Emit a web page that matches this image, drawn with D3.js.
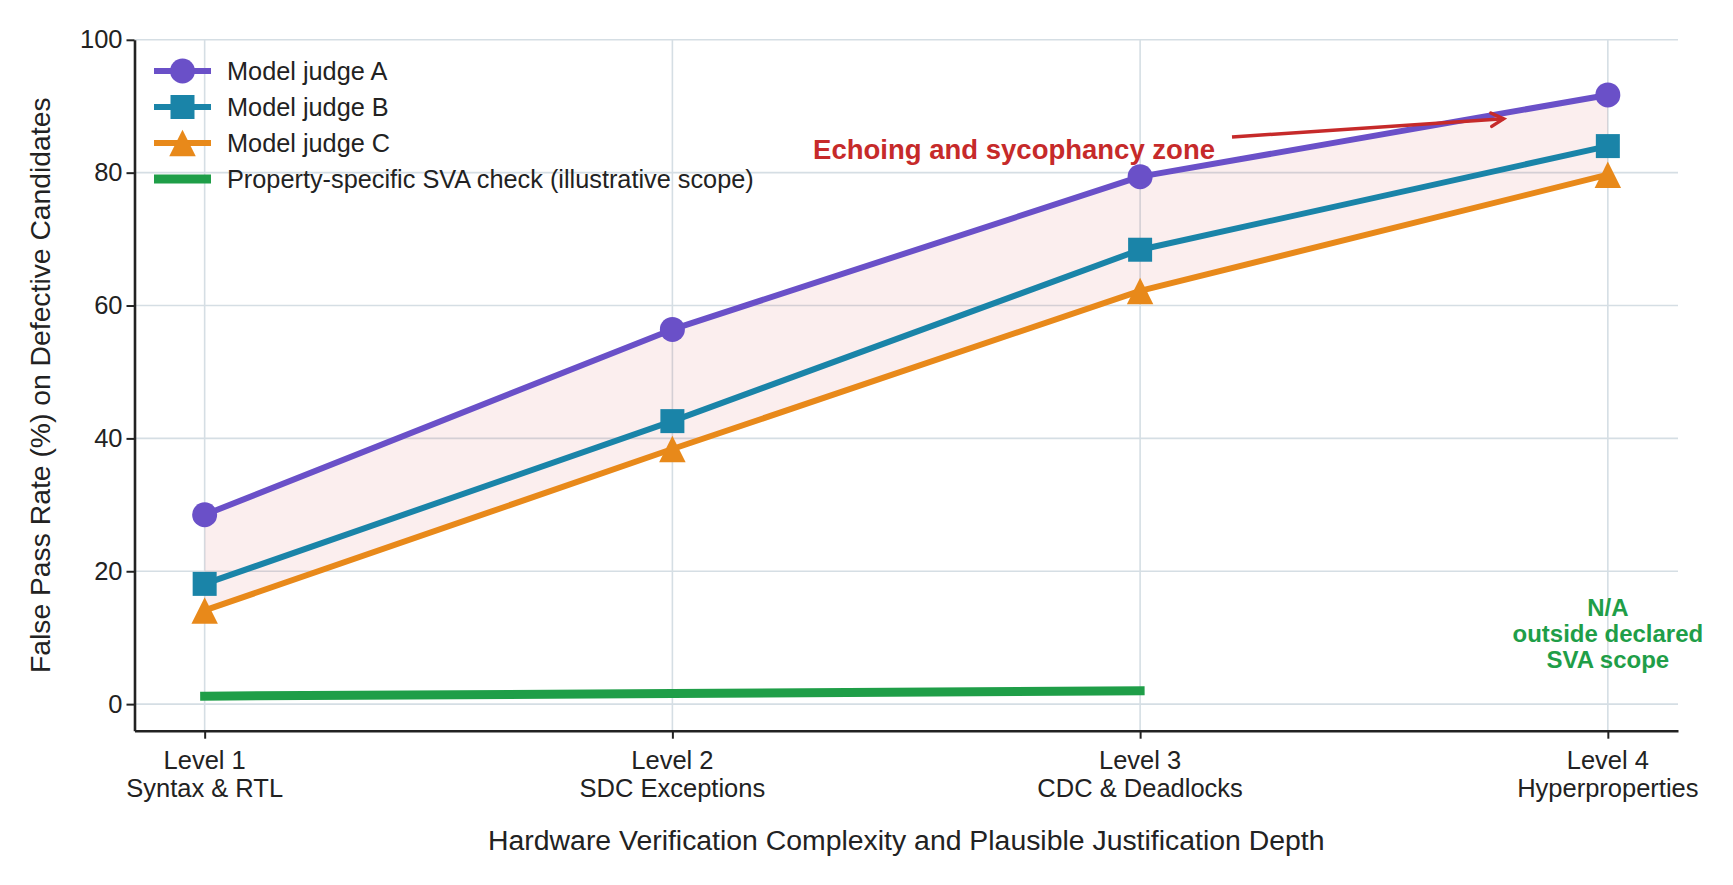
<!DOCTYPE html>
<html>
<head>
<meta charset="utf-8">
<script src="https://cdn.jsdelivr.net/npm/d3@7"></script>
<style>
  body{margin:0;background:#fff;}
  text{font-family:"Liberation Sans",Arial,sans-serif;fill:#222;}
</style>
</head>
<body>
<div class="chart"></div>
<script>
// data
var levels=['Level 1','Level 2','Level 3','Level 4'];
var levelNames=['Syntax & RTL','SDC Exceptions','CDC & Deadlocks','Hyperproperties'];
var judgeA=[28.5,56.4,79.4,91.7];
var judgeB=[18.1,42.6,68.4,84.0];
var judgeC=[14.1,38.4,62.2,79.7];
var svaCheck=[1.2,1.6,2.0];   // levels 1-3 only
var yTicks=[0,20,40,60,80,100];

var width=1733,height=885;
var margin={left:134.5,right:55,top:39.8,bottom:154.3};
var svg=d3.select('div.chart')
		.append('svg')
		.attr('width',width)
		.attr('height',height);

var x=d3.scaleLinear()
		.domain([-0.15,3.15])
		.range([margin.left,width-margin.right]);
var y=d3.scaleLinear()
		.domain([-4,100])
		.range([height-margin.bottom,margin.top]);

var colA='#6a50c8',colB='#1a84a8',colC='#e8891a',colG='#1f9e48',colR='#c62a2a';

// 像matplotlib的 '^' 标记
var triUp={draw:function(ctx,size){
	var h=Math.sqrt(size)/2;
	ctx.moveTo(0,-h);
	ctx.lineTo(h,h);
	ctx.lineTo(-h,h);
	ctx.closePath();
}};

//网格
var grid=svg.append('g');
grid.selectAll('line.h')
	.data(yTicks)
	.enter()
	.append('line')
	.attr('x1',x(-0.15)).attr('x2',x(3.15))
	.attr('y1',function(d){return y(d);})
	.attr('y2',function(d){return y(d);})
	.attr('stroke','#d5dee4').attr('stroke-width',1.6);
grid.selectAll('line.v')
	.data(levels)
	.enter()
	.append('line')
	.attr('x1',function(d,i){return x(i);})
	.attr('x2',function(d,i){return x(i);})
	.attr('y1',y(100)).attr('y2',y(-4))
	.attr('stroke','#d5dee4').attr('stroke-width',1.6);

//A和C之间的区域
var area=d3.area()
		.x(function(d,i){return x(i);})
		.y0(function(d,i){return y(judgeC[i]);})
		.y1(function(d){return y(d);});
svg.append('path')
	.attr('d',area(judgeA))
	.attr('fill','#c62a2a')
	.attr('fill-opacity',0.08);

var line=d3.line()
		.x(function(d,i){return x(i);})
		.y(function(d){return y(d);});

var series=[
	{name:'Model judge A',data:judgeA,color:colA,marker:d3.symbolCircle,size:490},
	{name:'Model judge B',data:judgeB,color:colB,marker:d3.symbolSquare,size:576},
	{name:'Model judge C',data:judgeC,color:colC,marker:triUp,size:700}
];

series.forEach(function(s){
	svg.append('path')
		.attr('d',line(s.data))
		.attr('fill','none')
		.attr('stroke',s.color)
		.attr('stroke-width',6)
		.attr('stroke-linejoin','round');
});

//SVA检查线
svg.append('path')
	.attr('d',line(svaCheck))
	.attr('fill','none')
	.attr('stroke',colG)
	.attr('stroke-width',9)
	.attr('stroke-linecap','square');

series.forEach(function(s){
	svg.selectAll(null)
		.data(s.data)
		.enter()
		.append('path')
		.attr('transform',function(d,i){return 'translate('+x(i)+','+y(d)+')';})
		.attr('d',d3.symbol().type(s.marker).size(s.size))
		.attr('fill',s.color);
});

//坐标轴
var xAxis=svg.append('g')
	.attr('transform','translate(0,'+(height-margin.bottom)+')')
	.call(d3.axisBottom(x).tickValues([0,1,2,3]).tickFormat('').tickSize(8).tickSizeOuter(0));
var yAxis=svg.append('g')
	.attr('transform','translate('+margin.left+',0)')
	.call(d3.axisLeft(y).tickValues(yTicks).tickSize(8).tickSizeOuter(0));
[xAxis,yAxis].forEach(function(a){
	a.select('.domain').attr('stroke','#222').attr('stroke-width',2.6);
	a.selectAll('.tick line').attr('stroke','#222').attr('stroke-width',2);
});
yAxis.selectAll('.tick text')
	.attr('font-size',25.5)
	.attr('x',-12)
	.style('font-family','"Liberation Sans",Arial,sans-serif')
	.attr('fill','#222');

var xl=svg.append('g');
levels.forEach(function(l,i){
	var t=xl.append('text')
		.attr('x',x(i))
		.attr('y',y(-4)+38)
		.attr('text-anchor','middle')
		.attr('font-size',25.5);
	t.append('tspan').attr('x',x(i)).text(l);
	t.append('tspan').attr('x',x(i)).attr('dy',28).text(levelNames[i]);
});

svg.append('text')
	.attr('x',(margin.left+width-margin.right)/2)
	.attr('y',850)
	.attr('text-anchor','middle')
	.attr('font-size',28.4)
	.text('Hardware Verification Complexity and Plausible Justification Depth');
svg.append('text')
	.attr('transform','translate(50,'+((y(100)+y(-4))/2)+') rotate(-90)')
	.attr('text-anchor','middle')
	.attr('font-size',28.3)
	.text('False Pass Rate (%) on Defective Candidates');

//注释箭头
var sx=1232,sy=137,ax=x(2.777),ay=y(88.1);
var ang=Math.atan2(ay-sy,ax-sx);
svg.append('line')
	.attr('x1',sx).attr('y1',sy)
	.attr('x2',ax).attr('y2',ay)
	.attr('stroke',colR)
	.attr('stroke-width',3.5);
var hl=14,ha=0.5;
svg.append('path')
	.attr('d','M'+(ax-hl*Math.cos(ang-ha))+','+(ay-hl*Math.sin(ang-ha))
		+' L'+ax+','+ay
		+' L'+(ax-hl*Math.cos(ang+ha))+','+(ay-hl*Math.sin(ang+ha)))
	.attr('fill','none').attr('stroke',colR).attr('stroke-width',3.5)
	.attr('stroke-linecap','round').attr('stroke-linejoin','miter');
svg.append('text')
	.attr('x',1215)
	.attr('y',159)
	.attr('text-anchor','end')
	.attr('font-size',27.5)
	.attr('font-weight','bold')
	.style('fill',colR)
	.text('Echoing and sycophancy zone');

var na=svg.append('text')
	.attr('text-anchor','middle')
	.attr('font-size',24)
	.attr('font-weight','bold')
	.style('fill',colG);
['N/A','outside declared','SVA scope'].forEach(function(t,i){
	na.append('tspan').attr('x',x(3)).attr('y',y(14)+4.5+i*26).text(t);
});

//图例
var legend=svg.append('g');
series.concat([{name:'Property-specific SVA check (illustrative scope)',color:colG}]).forEach(function(s,i){
	var ly=71+i*36;
	var g=legend.append('g').attr('transform','translate(154,'+ly+')');
	g.append('line').attr('x1',0).attr('x2',57)
		.attr('stroke',s.color).attr('stroke-width',s.marker?6:9);
	if(s.marker){
		g.append('path')
			.attr('transform','translate(28.5,0)')
			.attr('d',d3.symbol().type(s.marker).size(s.size))
			.attr('fill',s.color);
	}
	g.append('text').attr('x',73).attr('y',9).attr('font-size',25.3).text(s.name);
});
</script>
</body>
</html>
